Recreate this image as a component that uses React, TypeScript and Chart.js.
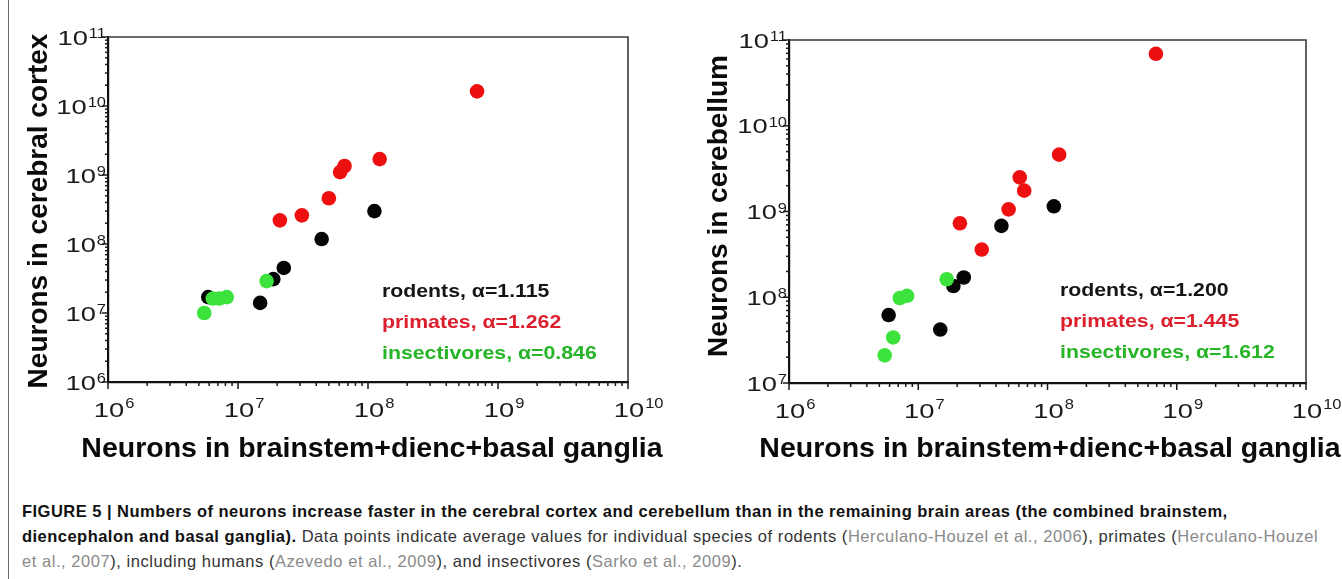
import React, { useEffect, useRef } from "react";
import { Chart, registerables } from "chart.js";

Chart.register(...registerables);

// ---------- data ----------
const X_DECADES = [6, 7, 8, 9, 10];
const Y1_DECADES = [6, 7, 8, 9, 10, 11];
const Y2_DECADES = [7, 8, 9, 10, 11];

const rodentsX = [5.9e6, 1.48e7, 1.87e7, 2.25e7, 4.4e7, 1.12e8];
const rodentsCortex = [1.7e7, 1.4e7, 3.1e7, 4.5e7, 1.18e8, 3.0e8];
const rodentsCerebellum = [6.2e7, 4.2e7, 1.35e8, 1.7e8, 6.8e8, 1.15e9];

const primatesX = [2.1e7, 3.1e7, 5.0e7, 6.1e7, 6.6e7, 1.23e8, 6.9e8];
const primatesCortex = [2.2e8, 2.6e8, 4.6e8, 1.1e9, 1.35e9, 1.7e9, 1.63e10];
const primatesCerebellum = [7.3e8, 3.6e8, 1.06e9, 2.5e9, 1.75e9, 4.6e9, 6.9e10];

const insectX = [5.5e6, 6.4e6, 7.2e6, 8.2e6, 1.66e7];
const insectCortex = [1.0e7, 1.62e7, 1.62e7, 1.7e7, 2.9e7];
const insectCerebellum = [2.1e7, 3.4e7, 9.8e7, 1.04e8, 1.62e8];

const LABELS1 = ["rodents, α=1.115", "primates, α=1.262", "insectivores, α=0.846"];
const LABELS2 = ["rodents, α=1.200", "primates, α=1.445", "insectivores, α=1.612"];
const X_TITLE = "Neurons in brainstem+dienc+basal ganglia";
const Y1_TITLE = "Neurons in cerebral cortex";
const Y2_TITLE = "Neurons in cerebellum";

// ---------- styles ----------
const RED = "#ee1010";
const BLACK = "#050505";
const GREEN = "#3ce33c";
const LABEL_COLORS = ["#151515", "#dc1f2c", "#26b526"];
const FONT = "'Liberation Sans', Arial, sans-serif";

function tickValues(decades: number[]): number[] {
  const out: number[] = [];
  for (let i = 0; i < decades.length; i++) {
    const e = decades[i];
    if (i === decades.length - 1) {
      out.push(Math.pow(10, e));
      break;
    }
    for (let m = 1; m <= 9; m++) out.push(m * Math.pow(10, e));
  }
  return out;
}

function isPow10(v: number) {
  const l = Math.log10(v);
  return Math.abs(l - Math.round(l)) < 1e-9;
}

function stretchText(ctx: CanvasRenderingContext2D, text: string, x: number, y: number, font: string, sx: number, align: CanvasTextAlign) {
  ctx.save();
  ctx.font = font;
  ctx.textAlign = align;
  ctx.textBaseline = "alphabetic";
  ctx.translate(x, y);
  ctx.scale(sx, 1);
  ctx.fillText(text, 0, 0);
  ctx.restore();
}

function measure(ctx: CanvasRenderingContext2D, text: string, font: string, sx: number) {
  ctx.save();
  ctx.font = font;
  const w = ctx.measureText(text).width * sx;
  ctx.restore();
  return w;
}

type Panel = {
  yDecades: number[];
  yData: { rod: number[]; pri: number[]; ins: number[] };
  yTitle: string;
  labels: string[];
  padding: { left: number; top: number; right: number; bottom: number };
  yTitlePos: { x: number; y: number };
  xTitlePos: { x: number; y: number };
  labelPos: { x: number; y: number[] };
};

const BASE_FONT = `21px ${FONT}`;
const SUP_FONT = `15px ${FONT}`;
const BASE_SX = 1.3;
const SUP_SX = 1.1;
const LABEL_FONT = `bold 19px ${FONT}`;
const LABEL_SX = 1.12;

function makePlugin(panel: Panel) {
  return {
    id: "panelDecor",
    beforeDatasetsDraw(chart: any) {
      const ctx: CanvasRenderingContext2D = chart.ctx;
      const a = chart.chartArea;
      const xs = chart.scales.x;
      const ys = chart.scales.y;
      ctx.save();
      // top & right frame
      ctx.strokeStyle = "#3a3a3a";
      ctx.lineWidth = 1.6;
      ctx.beginPath();
      ctx.moveTo(a.left, a.top);
      ctx.lineTo(a.right, a.top);
      ctx.lineTo(a.right, a.bottom);
      ctx.stroke();
      // tick marks
      ctx.strokeStyle = "#1a1a1a";
      ctx.lineWidth = 1.5;
      for (const t of xs.ticks) {
        const px = xs.getPixelForValue(t.value);
        const len = isPow10(t.value) ? 7 : 4;
        ctx.beginPath();
        ctx.moveTo(px, a.bottom);
        ctx.lineTo(px, a.bottom + len);
        ctx.stroke();
      }
      for (const t of ys.ticks) {
        const py = ys.getPixelForValue(t.value);
        const len = isPow10(t.value) ? 6 : 3;
        ctx.beginPath();
        ctx.moveTo(a.left, py);
        ctx.lineTo(a.left - len, py);
        ctx.stroke();
      }
      ctx.restore();
    },
    afterDraw(chart: any) {
      const ctx: CanvasRenderingContext2D = chart.ctx;
      const a = chart.chartArea;
      const xs = chart.scales.x;
      const ys = chart.scales.y;
      ctx.save();
      ctx.fillStyle = "#1a1a1a";
      // x tick labels
      for (const t of xs.ticks) {
        if (!isPow10(t.value)) continue;
        const e = String(Math.round(Math.log10(t.value)));
        const px = xs.getPixelForValue(t.value);
        const w10 = measure(ctx, "10", BASE_FONT, BASE_SX);
        stretchText(ctx, "10", px + 1, a.bottom + 35, BASE_FONT, BASE_SX, "center");
        stretchText(ctx, e, px + 1 + w10 / 2 + 1, a.bottom + 26, SUP_FONT, SUP_SX, "left");
      }
      // y tick labels
      for (const t of ys.ticks) {
        if (!isPow10(t.value)) continue;
        const e = String(Math.round(Math.log10(t.value)));
        const py = ys.getPixelForValue(t.value);
        const right = a.left - 2;
        const we = measure(ctx, e, SUP_FONT, SUP_SX);
        stretchText(ctx, e, right, py + 1, SUP_FONT, SUP_SX, "right");
        stretchText(ctx, "10", right - we - 1, py + 7.5, BASE_FONT, BASE_SX, "right");
      }
      // axis titles
      ctx.fillStyle = "#0a0a0a";
      ctx.font = `bold 28.5px ${FONT}`;
      ctx.textAlign = "center";
      ctx.textBaseline = "alphabetic";
      ctx.fillText(X_TITLE, panel.xTitlePos.x, panel.xTitlePos.y);
      ctx.save();
      ctx.translate(panel.yTitlePos.x, panel.yTitlePos.y);
      ctx.rotate(-Math.PI / 2);
      ctx.font = `bold 28px ${FONT}`;
      ctx.fillText(panel.yTitle, 0, 0);
      ctx.restore();
      // annotations
      panel.labels.forEach((txt, i) => {
        ctx.fillStyle = LABEL_COLORS[i];
        stretchText(ctx, txt, panel.labelPos.x, panel.labelPos.y[i], LABEL_FONT, LABEL_SX, "left");
      });
      ctx.restore();
    },
  };
}

function toPts(xs: number[], ys: number[]) {
  return xs.map((x, i) => ({ x, y: ys[i] }));
}

function ScatterPanel({ panel, left }: { panel: Panel; left: number }) {
  const ref = useRef<HTMLCanvasElement | null>(null);
  useEffect(() => {
    if (!ref.current) return;
    const ds = (label: string, pts: any[], color: string, order: number) => ({
      label,
      data: pts,
      backgroundColor: color,
      borderColor: color,
      borderWidth: 0,
      pointRadius: 7.3,
      pointHoverRadius: 7.3,
      order,
    });
    const chart = new Chart(ref.current, {
      type: "scatter",
      data: {
        datasets: [
          ds("insectivores", toPts(insectX, panel.yData.ins), GREEN, 0),
          ds("primates", toPts(primatesX, panel.yData.pri), RED, 1),
          ds("rodents", toPts(rodentsX, panel.yData.rod), BLACK, 2),
        ],
      },
      options: {
        animation: false,
        responsive: false,
        devicePixelRatio: 1,
        layout: { padding: panel.padding },
        plugins: { legend: { display: false }, tooltip: { enabled: false } },
        events: [],
        scales: {
          x: {
            type: "logarithmic",
            position: "bottom",
            min: Math.pow(10, X_DECADES[0]),
            max: Math.pow(10, X_DECADES[X_DECADES.length - 1]),
            grid: { display: false, drawTicks: false },
            border: { display: true, color: "#111", width: 2.2 },
            ticks: { display: false },
            afterBuildTicks: (s: any) => {
              s.ticks = tickValues(X_DECADES).map((v) => ({ value: v, major: isPow10(v) }));
            },
          },
          y: {
            type: "logarithmic",
            position: "left",
            min: Math.pow(10, panel.yDecades[0]),
            max: Math.pow(10, panel.yDecades[panel.yDecades.length - 1]),
            grid: { display: false, drawTicks: false },
            border: { display: true, color: "#111", width: 2.2 },
            ticks: { display: false },
            afterBuildTicks: (s: any) => {
              s.ticks = tickValues(panel.yDecades).map((v) => ({ value: v, major: isPow10(v) }));
            },
          },
        },
      } as any,
      plugins: [makePlugin(panel)],
    });
    return () => chart.destroy();
  }, [panel]);
  return (
    <canvas
      ref={ref}
      width={671}
      height={480}
      style={{ position: "absolute", left, top: 0, width: 671, height: 480 }}
    />
  );
}

const PANEL1: Panel = {
  yDecades: Y1_DECADES,
  yData: { rod: rodentsCortex, pri: primatesCortex, ins: insectCortex },
  yTitle: Y1_TITLE,
  labels: LABELS1,
  padding: { left: 108, top: 37, right: 43, bottom: 98 },
  yTitlePos: { x: 47, y: 211 },
  xTitlePos: { x: 372, y: 457 },
  labelPos: { x: 382, y: [297, 328, 359] },
};

const PANEL2: Panel = {
  yDecades: Y2_DECADES,
  yData: { rod: rodentsCerebellum, pri: primatesCerebellum, ins: insectCerebellum },
  yTitle: Y2_TITLE,
  labels: LABELS2,
  padding: { left: 118, top: 40, right: 36, bottom: 97 },
  yTitlePos: { x: 56, y: 206 },
  xTitlePos: { x: 379, y: 457 },
  labelPos: { x: 389, y: [296, 327, 358] },
};

const gray = { color: "#8a8a8a" };
const bold = { color: "#111", letterSpacing: "0.47px" };

export default function App() {
  return (
    <div style={{ position: "absolute", left: 0, top: 0, width: 1342, height: 579, background: "#fff", overflow: "hidden" }}>
      <div style={{ position: "absolute", left: 8, top: 0, width: 1, height: 579, background: "#6a6a6a" }} />
      <ScatterPanel panel={PANEL1} left={0} />
      <ScatterPanel panel={PANEL2} left={671} />
      <div
        style={{
          position: "absolute",
          left: 22,
          top: 499,
          fontFamily: FONT,
          fontSize: 16.5,
          lineHeight: "25px",
          letterSpacing: "0.55px",
          color: "#333",
          whiteSpace: "nowrap",
        }}
      >
        <b style={bold}>
          FIGURE 5 | Numbers of neurons increase faster in the cerebral cortex and cerebellum than in the remaining brain areas (the combined brainstem,
        </b>
        <br />
        <b style={bold}>diencephalon and basal ganglia).</b> Data points indicate average values for individual species of rodents (
        <span style={gray}>Herculano-Houzel et al., 2006</span>), primates (<span style={gray}>Herculano-Houzel</span>
        <br />
        <span style={gray}>et al., 2007</span>), including humans (<span style={gray}>Azevedo et al., 2009</span>), and insectivores (
        <span style={gray}>Sarko et al., 2009</span>).
      </div>
    </div>
  );
}
